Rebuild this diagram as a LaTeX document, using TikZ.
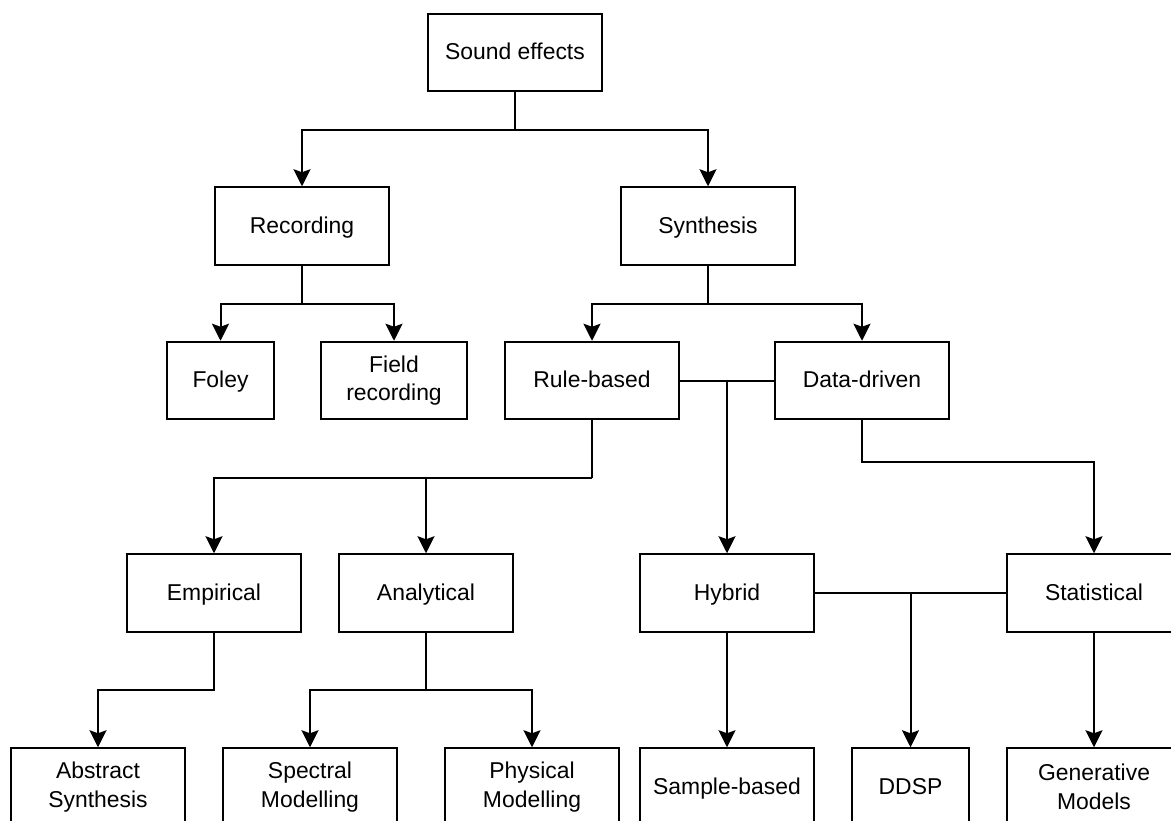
\documentclass[tikz,border=0pt]{standalone}
\usepackage{fontspec}
\setmainfont{Liberation Sans}
\usetikzlibrary{arrows.meta}
\begin{document}
\begin{tikzpicture}[x=1pt,y=-1pt,
  box/.style={draw=black, line width=2pt, fill=white, minimum width=174pt, minimum height=77.5pt,
    inner sep=0pt, align=center, font=\fontsize{22.9}{28.6}\selectfont},
  onebox/.style={box, text height=19pt, text depth=5pt},
  link/.style={line width=2pt, draw=black},
  arr/.style={link, -{Stealth[length=17pt,width=17pt,inset=3pt]}}]
\useasboundingbox (0,0) rectangle (1171,820);
\clip (0,0) rectangle (1171,820);

% level 0
\node[onebox] (se) at (515,52.5) {Sound effects};
% level 1
\node[onebox] (rec) at (302,226) {Recording};
\node[onebox] (syn) at (708,226) {Synthesis};
% level 2
\node[onebox, minimum width=107pt] (foley) at (220.5,380.5) {Foley};
\node[box, minimum width=146pt] (field) at (394,380.5) {Field\\recording};
\node[onebox] (rule) at (592,380.5) {Rule-based};
\node[onebox] (data) at (862,380.5) {Data-driven};
% level 3
\node[onebox] (emp) at (214,593) {Empirical};
\node[onebox] (ana) at (426,593) {Analytical};
\node[onebox] (hyb) at (727,593) {Hybrid};
\node[onebox] (stat) at (1094,593) {Statistical};
% level 4
\node[box] (abs) at (98,787) {Abstract\\Synthesis};
\node[box] (spec) at (310,787) {Spectral\\Modelling};
\node[box] (phys) at (532,787) {Physical\\Modelling};
\node[onebox] (samp) at (727,787) {Sample-based};
\node[onebox, minimum width=117pt] (ddsp) at (910.5,787) {DDSP};
\node[box] (gen) at (1094,787) {Generative\\Models};

% sound effects -> recording / synthesis
\draw[link] (se.south) -- ++(0,38) coordinate (j0);
\draw[arr] (j0) -| (rec.north);
\draw[arr] (j0) -| (syn.north);

% recording -> foley / field recording
\draw[link] (rec.south) -- ++(0,38) coordinate (j1);
\draw[arr] (j1) -| (foley.north);
\draw[arr] (j1) -| (field.north);

% synthesis -> rule-based / data-driven
\draw[link] (syn.south) -- ++(0,38.5) coordinate (j2);
\draw[arr] (j2) -| (rule.north);
\draw[arr] (j2) -| (data.north);

% rule-based and data-driven meet in hybrid
\draw[link] (rule.east) -- (data.west);
\draw[arr] (rule.east -| hyb.north) -- (hyb.north);

% rule-based -> empirical / analytical
\draw[link] (rule.south) -- ++(0,58) coordinate (j3);
\draw[arr] (j3) -| (emp.north);
\draw[arr] (j3) -| (ana.north);

% data-driven -> statistical
\draw[arr] (data.south) -- ++(0,42) -| (stat.north);

% hybrid and statistical meet in DDSP
\draw[link] (hyb.east) -- (stat.west);
\draw[arr] (hyb.east -| ddsp.north) -- (ddsp.north);
\draw[arr] (hyb.south) -- (samp.north);
\draw[arr] (stat.south) -- (gen.north);

% empirical -> abstract synthesis
\draw[arr] (emp.south) -- ++(0,57) -| (abs.north);

% analytical -> spectral / physical modelling
\draw[link] (ana.south) -- ++(0,57) coordinate (j4);
\draw[arr] (j4) -| (spec.north);
\draw[arr] (j4) -| (phys.north);
\end{tikzpicture}
\end{document}
